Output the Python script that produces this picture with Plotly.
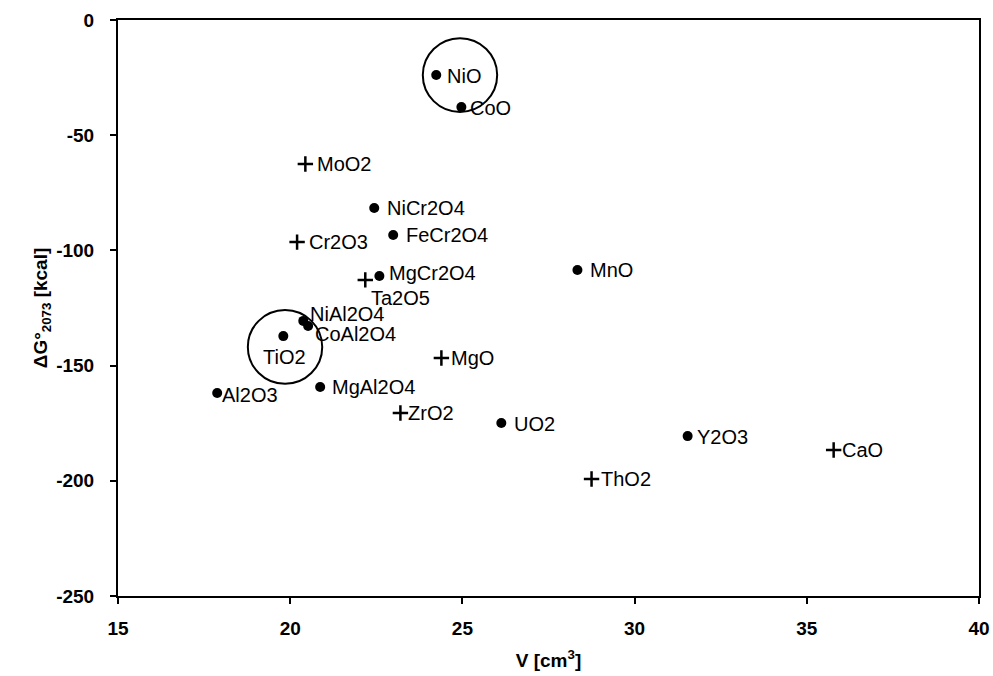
import plotly.graph_objects as go

# Compounds (filled dots)
dot_names = ["NiO", "CoO", "NiCr2O4", "FeCr2O4", "MgCr2O4", "NiAl2O4", "CoAl2O4",
             "TiO2", "Al2O3", "MgAl2O4", "UO2", "MnO", "Y2O3"]
dot_v = [24.24, 24.97, 22.44, 22.99, 22.59, 20.38, 20.52, 19.80, 17.88, 20.87, 26.13, 28.34, 31.54]
dot_g = [-23.9, -37.8, -81.6, -93.3, -111.1, -130.6, -132.8, -137.2, -161.9, -159.3, -174.9, -108.5, -180.6]

# Compounds (plus markers)
plus_names = ["MoO2", "Cr2O3", "Ta2O5", "MgO", "ZrO2", "ThO2", "CaO"]
plus_v = [20.44, 20.20, 22.18, 24.39, 23.20, 28.75, 35.78]
plus_g = [-62.5, -96.4, -112.8, -146.7, -170.6, -199.2, -186.6]

# Highlight circles (center V, center G)
circle_v = [24.93, 19.85]
circle_g = [-23.9, -141.9]

x_ticks = [15, 20, 25, 30, 35, 40]
y_ticks = [0, -50, -100, -150, -200, -250]

FONT = "Liberation Sans, Arial, sans-serif"

# label placement offsets (pixels): name -> (xanchor, yanchor, xshift, yshift)
label_pos = {
    "NiO": ("left", "middle", 9, -1),
    "CoO": ("left", "middle", 7, -1),
    "NiCr2O4": ("left", "middle", 11, 0),
    "FeCr2O4": ("left", "middle", 11, 0),
    "MgCr2O4": ("left", "middle", 8, 3),
    "NiAl2O4": ("left", "middle", 5, 7),
    "CoAl2O4": ("left", "middle", 5, -8),
    "TiO2": ("center", "top", 1, -8),
    "Al2O3": ("left", "middle", 3, -2),
    "MgAl2O4": ("left", "middle", 10, 0),
    "UO2": ("left", "middle", 11, -1),
    "MnO": ("left", "middle", 11, 0),
    "Y2O3": ("left", "middle", 7, -1),
    "MoO2": ("left", "middle", 10, 0),
    "Cr2O3": ("left", "middle", 10, 0),
    "Ta2O5": ("left", "top", 4, -5),
    "MgO": ("left", "middle", 8, 0),
    "ZrO2": ("left", "middle", 6, 0),
    "ThO2": ("left", "middle", 7, 0),
    "CaO": ("left", "middle", 6, 0),
}

fig = go.Figure()
fig.add_trace(go.Scatter(
    x=dot_v, y=dot_g, mode="markers", name="dots",
    marker=dict(symbol="circle", size=10, color="black"),
    showlegend=False))
fig.add_trace(go.Scatter(
    x=plus_v, y=plus_g, mode="markers", name="plus",
    marker=dict(symbol="cross-thin", size=11, color="black",
                line=dict(color="black", width=2.5)),
    showlegend=False))

annotations = []
for names, vs, gs in ((dot_names, dot_v, dot_g), (plus_names, plus_v, plus_g)):
    for n, v, g in zip(names, vs, gs):
        xa, ya, xs, ys = label_pos[n]
        annotations.append(dict(
            x=v, y=g, xref="x", yref="y", text=n, showarrow=False,
            xanchor=xa, yanchor=ya, xshift=xs, yshift=ys,
            font=dict(family=FONT, size=20, color="black")))

# circle radii in data units (approx. 37 px)
rx, ry = 1.08, 16.0
shapes = []
for cv, cg in zip(circle_v, circle_g):
    shapes.append(dict(type="circle", xref="x", yref="y",
                       x0=cv - rx, x1=cv + rx, y0=cg - ry, y1=cg + ry,
                       line=dict(color="black", width=2)))

fig.update_layout(
    width=993, height=676,
    margin=dict(l=118, r=14, t=20, b=80),
    paper_bgcolor="white", plot_bgcolor="white",
    font=dict(family=FONT, color="black"),
    annotations=annotations, shapes=shapes,
    xaxis=dict(range=[15, 40], tickvals=x_ticks, ticktext=[f"<b>{t}</b>" for t in x_ticks],
               showgrid=False, zeroline=False, showline=True, linecolor="black",
               linewidth=2, mirror=True, ticks="outside", ticklen=6, tickwidth=1.5,
               tickcolor="black", tickfont=dict(size=19, family=FONT),
               ticklabelstandoff=8, automargin=False,
               title=dict(text="<b>V [cm<sup>3</sup>]</b>", font=dict(size=19, family=FONT),
                          standoff=16)),
    yaxis=dict(range=[-250, 0], tickvals=y_ticks, ticktext=[f"<b>{t}</b>" for t in y_ticks],
               showgrid=False, zeroline=False, showline=True, linecolor="black",
               linewidth=2, mirror=True, ticks="outside", ticklen=6, tickwidth=1.5,
               tickcolor="black", tickfont=dict(size=19, family=FONT),
               ticklabelstandoff=12, automargin=False,
               title=dict(text="<b>ΔG°<sub>2073</sub> [kcal]</b>", font=dict(size=19, family=FONT),
                          standoff=4)),
)

fig.write_html("out.html")
